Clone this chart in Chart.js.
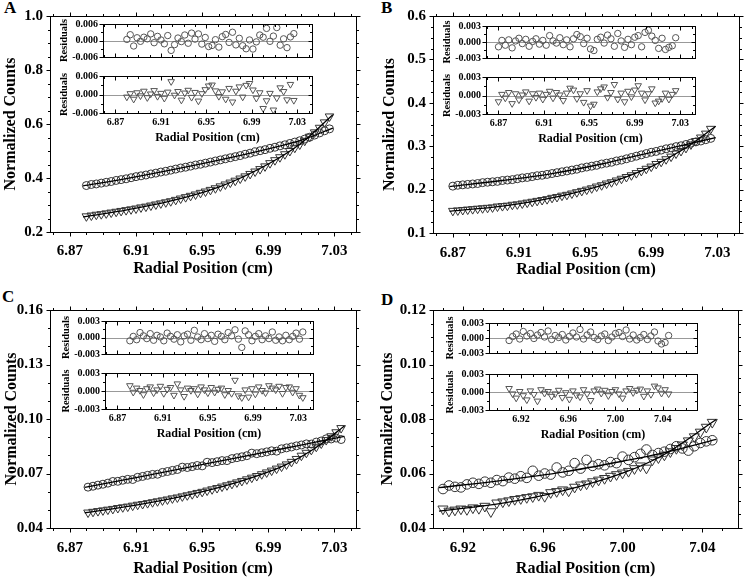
<!DOCTYPE html>
<html>
<head>
<meta charset="utf-8">
<script src="https://cdn.jsdelivr.net/npm/chart.js@4.4.0/dist/chart.umd.min.js"></script>
<style>
  html, body { margin: 0; background: #fff; }
  #fig { position: relative; width: 745px; height: 580px; overflow: hidden; }
  #fig canvas { position: absolute; }
  .lab { position: absolute; font: bold 17px 'Liberation Serif', serif; line-height: 1; }
</style>
</head>
<body>
<div id="fig">
  <div class="lab" style="left:4px;top:-1px">A</div>
  <div class="lab" style="left:381px;top:-1px">B</div>
  <div class="lab" style="left:2px;top:288px">C</div>
  <div class="lab" style="left:381px;top:291px">D</div>
</div>
<script>
// ---- tick labels ----
const xTicksABC = ['6.87', '6.91', '6.95', '6.99', '7.03'];
const xTicksD = ['6.92', '6.96', '7.00', '7.04'];
const yTicksA = ['0.2', '0.4', '0.6', '0.8', '1.0'];
const yTicksB = ['0.1', '0.2', '0.3', '0.4', '0.5', '0.6'];
const yTicksC = ['0.04', '0.07', '0.10', '0.13', '0.16'];
const yTicksD = ['0.04', '0.06', '0.08', '0.10', '0.12'];
const resTicksA = ['-0.006', '0.000', '0.006'];
const resTicksBCD = ['-0.003', '0.000', '0.003'];

// ---- panel A ----
const xA = [6.880,6.883,6.886,6.889,6.892,6.895,6.898,6.901,6.904,6.907,6.910,6.913,6.916,6.919,6.922,6.925,6.928,6.931,6.934,6.937,
  6.940,6.943,6.946,6.949,6.952,6.955,6.958,6.961,6.964,6.967,6.970,6.973,6.976,6.979,6.982,6.985,6.988,6.991,6.994,6.997,
  7.000,7.003,7.006,7.009,7.012,7.015,7.018,7.021,7.024,7.027];
const circA = [0.372,0.376,0.378,0.381,0.384,0.387,0.391,0.394,0.397,0.401,0.405,0.408,0.411,0.415,0.418,0.422,0.425,0.429,0.433,0.437,
  0.440,0.444,0.448,0.451,0.455,0.459,0.463,0.467,0.471,0.475,0.479,0.483,0.488,0.492,0.497,0.501,0.505,0.510,0.514,0.519,
  0.523,0.528,0.533,0.538,0.544,0.551,0.559,0.567,0.575,0.582];
const triA = [0.258,0.261,0.264,0.266,0.269,0.272,0.275,0.278,0.281,0.284,0.287,0.291,0.294,0.298,0.302,0.306,0.310,0.314,0.319,0.324,
  0.329,0.334,0.339,0.345,0.350,0.356,0.362,0.369,0.376,0.383,0.390,0.398,0.406,0.415,0.424,0.433,0.443,0.455,0.466,0.477,
  0.488,0.500,0.512,0.524,0.538,0.553,0.569,0.586,0.606,0.628];
const fitXA = [6.878, 6.90, 6.93, 6.96, 6.99, 7.01, 7.029];
const fitCircA = [0.371, 0.393, 0.428, 0.466, 0.508, 0.540, 0.585];
const fitTriA = [0.256, 0.277, 0.313, 0.366, 0.452, 0.530, 0.634];
const resCircA = [0.0004,0.0021,-0.0020,0.0010,-0.0003,0.0012,0.0006,0.0024,-0.0008,0.0015,0.0002,-0.0012,0.0018,-0.0036,-0.0015,0.0009,-0.0004,0.0020,-0.0010,0.0027,
  0.0005,0.0024,-0.0013,0.0011,-0.0022,-0.0018,0.0003,-0.0024,0.0014,0.0022,-0.0007,0.0030,-0.0016,0.0008,-0.0019,-0.0030,0.0002,-0.0031,-0.0005,0.0020,
  0.0012,0.0044,-0.0003,0.0016,0.0047,-0.0017,0.0006,-0.0026,0.0013,0.0025];
const resTriA = [-0.0008,0.0003,-0.0015,0.0006,-0.0004,0.0011,-0.0010,0.0002,0.0013,-0.0006,0.0004,-0.0012,0.0008,0.0042,-0.0002,0.0010,-0.0018,0.0005,0.0014,-0.0009,
  0.0007,-0.0021,0.0003,0.0016,0.0028,0.0031,0.0012,-0.0006,0.0009,-0.0015,0.0020,-0.0024,0.0011,0.0025,-0.0008,0.0030,0.0036,0.0015,-0.0012,0.0006,
  -0.0045,-0.0020,0.0004,-0.0050,-0.0011,0.0022,0.0010,-0.0017,0.0033,-0.0019];

// ---- panel B ----
const xB = [6.870,6.873,6.876,6.879,6.882,6.885,6.888,6.891,6.894,6.897,6.900,6.903,6.906,6.909,6.912,6.915,6.918,6.921,6.924,6.927,
  6.930,6.933,6.936,6.939,6.942,6.945,6.948,6.951,6.954,6.957,6.960,6.963,6.966,6.969,6.972,6.975,6.978,6.981,6.984,6.987,
  6.990,6.993,6.996,6.999,7.002,7.005,7.008,7.011,7.014,7.017,7.020,7.023,7.026];
const circB = [0.208,0.210,0.211,0.212,0.213,0.214,0.216,0.217,0.218,0.219,0.221,0.222,0.223,0.225,0.227,0.228,0.230,0.232,0.233,0.235,
  0.237,0.239,0.241,0.243,0.245,0.247,0.250,0.252,0.254,0.256,0.259,0.261,0.263,0.266,0.268,0.271,0.274,0.277,0.280,0.283,
  0.286,0.288,0.291,0.294,0.296,0.299,0.301,0.304,0.307,0.310,0.312,0.315,0.318];
const triB = [0.151,0.152,0.153,0.154,0.155,0.156,0.157,0.158,0.159,0.161,0.162,0.163,0.165,0.166,0.168,0.170,0.172,0.174,0.176,0.178,
  0.181,0.183,0.186,0.188,0.191,0.194,0.197,0.200,0.203,0.207,0.210,0.214,0.217,0.221,0.225,0.229,0.233,0.238,0.243,0.248,
  0.253,0.259,0.264,0.270,0.276,0.283,0.289,0.296,0.304,0.312,0.320,0.329,0.340];
const fitXB = [6.868, 6.90, 6.93, 6.96, 6.99, 7.01, 7.029];
const fitCircB = [0.207, 0.221, 0.237, 0.259, 0.286, 0.303, 0.320];
const fitTriB = [0.150, 0.162, 0.181, 0.210, 0.253, 0.294, 0.346];
const resCircB = [-0.0009,0.0003,-0.0006,0.0004,-0.0011,0.0002,0.0007,-0.0003,0.0005,-0.0008,0.0001,0.0006,-0.0004,0.0003,-0.0006,0.0012,0.0002,-0.0002,0.0008,-0.0005,
  0.0004,-0.0009,0.0006,0.0014,0.0010,-0.0003,0.0007,-0.0013,-0.0016,0.0005,0.0009,-0.0002,0.0013,0.0006,-0.0008,0.0016,0.0002,-0.0010,0.0005,-0.0005,
  0.0009,0.0012,-0.0009,0.0018,0.0022,0.0011,0.0003,-0.0012,0.0007,-0.0014,-0.0010,-0.0007,0.0008];
const resTriB = [-0.0010,0.0002,-0.0004,0.0005,-0.0013,0.0003,-0.0007,0.0001,0.0006,-0.0009,0.0003,-0.0003,0.0004,-0.0006,0.0002,0.0007,-0.0004,0.0005,0.0001,-0.0008,
  0.0004,0.0012,0.0009,-0.0005,0.0003,-0.0011,0.0008,-0.0017,-0.0014,0.0006,0.0011,0.0014,-0.0003,0.0005,0.0018,-0.0006,0.0004,-0.0010,0.0007,-0.0002,
  0.0009,0.0016,0.0004,-0.0007,0.0003,0.0011,-0.0012,-0.0009,-0.0005,0.0004,-0.0006,0.0002,0.0008];

// ---- panel C ----
const xC = [6.881,6.884,6.887,6.890,6.893,6.896,6.899,6.902,6.905,6.908,6.911,6.914,6.917,6.920,6.923,6.926,6.929,6.932,6.935,6.938,
  6.941,6.944,6.947,6.950,6.953,6.956,6.959,6.962,6.965,6.968,6.971,6.974,6.977,6.980,6.983,6.986,6.989,6.992,6.995,6.998,
  7.001,7.004,7.007,7.010,7.013,7.016,7.019,7.022,7.025,7.028,7.031,7.034];
const circC = [0.0625,0.0630,0.0636,0.0641,0.0647,0.0656,0.0657,0.0663,0.0668,0.0667,0.0679,0.0684,0.0690,0.0695,0.0696,0.0706,0.0711,0.0717,0.0722,0.0735,
  0.0733,0.0738,0.0744,0.0742,0.0762,0.0760,0.0765,0.0771,0.0771,0.0782,0.0787,0.0792,0.0798,0.0812,0.0809,0.0814,0.0819,0.0825,0.0823,0.0836,
  0.0841,0.0846,0.0852,0.0857,0.0863,0.0862,0.0873,0.0879,0.0891,0.0890,0.0895,0.0887];
const triC = [0.0485,0.0489,0.0493,0.0497,0.0501,0.0505,0.0510,0.0514,0.0518,0.0523,0.0528,0.0532,0.0537,0.0542,0.0547,0.0552,0.0557,0.0563,0.0568,0.0574,
  0.0580,0.0586,0.0593,0.0599,0.0606,0.0613,0.0620,0.0628,0.0635,0.0643,0.0651,0.0659,0.0668,0.0677,0.0686,0.0696,0.0706,0.0716,0.0727,0.0738,
  0.0750,0.0764,0.0780,0.0798,0.0814,0.0830,0.0847,0.0865,0.0884,0.0905,0.0927,0.0950];
const fitXC = [6.879, 6.91, 6.94, 6.97, 7.00, 7.02, 7.036];
const fitCircC = [0.0624, 0.0677, 0.0731, 0.0785, 0.0839, 0.0875, 0.0904];
const fitTriC = [0.0484, 0.0526, 0.0578, 0.0648, 0.0746, 0.0850, 0.0962];
const resCircC = [-0.0006,0.0002,-0.0004,0.0009,0.0003,-0.0002,0.0007,-0.0005,0.0004,0.0001,-0.0006,0.0008,0.0002,-0.0003,0.0005,-0.0008,0.0003,0.0006,-0.0005,0.0013,
  0.0001,-0.0004,0.0007,-0.0002,0.0004,-0.0007,0.0006,0.0002,-0.0004,0.0009,0.0003,0.0014,-0.0003,-0.0018,0.0012,0.0005,-0.0006,0.0002,0.0007,-0.0004,
  0.0003,-0.0002,0.0010,-0.0005,0.0001,-0.0006,0.0004,-0.0004,0.0002,0.0008,-0.0003,0.0010];
const resTriC = [0.0009,-0.0002,0.0005,0.0001,-0.0006,0.0004,0.0007,-0.0003,0.0002,0.0008,-0.0004,0.0003,0.0006,-0.0007,0.0012,0.0002,-0.0009,0.0005,0.0001,0.0004,
  -0.0005,0.0007,0.0002,-0.0003,0.0006,-0.0002,0.0003,0.0005,-0.0006,0.0001,-0.0004,0.0018,-0.0008,-0.0011,0.0002,-0.0010,0.0004,-0.0005,0.0007,0.0001,
  -0.0003,0.0009,0.0005,0.0002,0.0008,-0.0004,0.0006,0.0007,-0.0002,0.0004,-0.0007,-0.0011];

// ---- panel D ----
const xD = [6.910,6.913,6.916,6.919,6.922,6.925,6.928,6.931,6.934,6.937,6.940,6.943,6.946,6.949,6.952,6.955,6.958,6.961,6.964,6.967,
  6.970,6.973,6.976,6.979,6.982,6.985,6.988,6.991,6.994,6.997,7.000,7.003,7.006,7.009,7.012,7.015,7.018,7.021,7.024,7.027,
  7.030,7.033,7.036,7.039,7.042,7.045];
const circD = [0.0543,0.0556,0.0551,0.0549,0.0560,0.0566,0.0562,0.0570,0.0566,0.0576,0.0572,0.0585,0.0581,0.0590,0.0584,0.0610,0.0592,0.0600,0.0596,0.0622,
  0.0604,0.0610,0.0638,0.0618,0.0650,0.0628,0.0634,0.0630,0.0642,0.0638,0.0662,0.0650,0.0660,0.0672,0.0688,0.0668,0.0675,0.0680,0.0690,0.0700,
  0.0692,0.0684,0.0700,0.0712,0.0718,0.0722];
const triD = [0.0470,0.0462,0.0466,0.0470,0.0468,0.0474,0.0472,0.0480,0.0460,0.0492,0.0496,0.0500,0.0505,0.0508,0.0512,0.0515,0.0520,0.0516,0.0530,0.0534,
  0.0540,0.0536,0.0550,0.0558,0.0562,0.0570,0.0576,0.0582,0.0590,0.0596,0.0602,0.0608,0.0618,0.0628,0.0620,0.0650,0.0658,0.0668,0.0680,0.0692,
  0.0705,0.0720,0.0735,0.0752,0.0770,0.0788];
const fitXD = [6.908, 6.94, 6.97, 7.00, 7.02, 7.047];
const fitCircD = [0.0548, 0.0575, 0.0605, 0.0645, 0.0675, 0.0725];
const fitTriD = [0.0462, 0.0491, 0.0536, 0.0601, 0.0666, 0.0798];
const resCircD = [-0.0005,0.0003,0.0008,-0.0002,0.0013,0.0004,0.0009,-0.0001,0.0006,0.0011,0.0002,0.0014,-0.0003,0.0005,0.0001,0.0007,-0.0004,0.0003,0.0010,0.0002,
  0.0017,-0.0002,0.0006,0.0012,0.0001,-0.0003,0.0004,0.0008,-0.0005,0.0002,0.0009,0.0011,0.0003,0.0016,-0.0002,0.0006,-0.0004,0.0001,0.0007,-0.0003,
  0.0004,0.0012,-0.0006,-0.0012,-0.0009,0.0005];
const resTriD = [0.0006,-0.0003,-0.0010,0.0001,-0.0006,-0.0013,0.0002,-0.0004,-0.0015,0.0004,-0.0002,0.0001,-0.0007,-0.0003,0.0003,-0.0009,-0.0001,-0.0012,0.0002,-0.0005,
  -0.0008,0.0004,-0.0003,-0.0014,0.0002,0.0005,-0.0002,0.0003,-0.0006,0.0001,0.0004,-0.0003,-0.0010,0.0002,0.0006,-0.0001,0.0003,0.0005,-0.0007,0.0002,
  -0.0004,0.0010,0.0007,-0.0002,0.0004,-0.0003];

const SERIF = "'Liberation Serif', 'Times New Roman', serif";
const fig = document.getElementById('fig');

// frame box + inner/outer tick marks on all four sides, placed with the chart's own scales
const frameTicks = {
  id: 'frameTicks',
  beforeDatasetsDraw(chart, args, o) {
    if (!o.zero) return;
    const {ctx, chartArea: a} = chart;
    const zy = Math.round(chart.scales.y.getPixelForValue(0)) + 0.5;
    ctx.save();
    ctx.strokeStyle = '#999'; ctx.lineWidth = 1;
    ctx.beginPath(); ctx.moveTo(a.left, zy); ctx.lineTo(a.right, zy); ctx.stroke();
    ctx.restore();
  },
  afterDraw(chart, args, o) {
    const {ctx, chartArea: a} = chart;
    const x = chart.scales.x, y = chart.scales.y;
    const L = Math.round(a.left) + 0.5, R = Math.round(a.right) + 0.5;
    const T = Math.round(a.top) + 0.5, B = Math.round(a.bottom) + 0.5;
    const len = t => (t.label !== '' ? o.major : o.minor);
    ctx.save();
    ctx.strokeStyle = '#000'; ctx.lineWidth = 1;
    ctx.strokeRect(L, T, R - L, B - T);
    ctx.beginPath();
    x.ticks.forEach(t => {
      const p = Math.round(x.getPixelForValue(t.value)) + 0.5, d = len(t);
      ctx.moveTo(p, B); ctx.lineTo(p, B + (o.outB ? d : -d));
      ctx.moveTo(p, T); ctx.lineTo(p, T + (o.outT ? -d : d));
    });
    y.ticks.forEach(t => {
      const p = Math.round(y.getPixelForValue(t.value)) + 0.5, d = len(t);
      ctx.moveTo(L, p); ctx.lineTo(L + (o.outL ? -d : d), p);
      ctx.moveTo(R, p); ctx.lineTo(R + (o.outR ? d : -d), p);
    });
    ctx.stroke();
    ctx.restore();
  }
};

function axis(pos, range, step, labels, o) {
  return {
    type: 'linear', position: pos, min: range[0], max: range[1],
    grid: { display: false, drawTicks: false, tickLength: 0 },
    border: { display: false },
    ticks: {
      display: o.show, stepSize: step, autoSkip: false, includeBounds: false, maxRotation: 0,
      padding: o.pad, color: '#000', font: { family: SERIF, weight: 'bold', size: o.fs },
      callback: v => { const s = labels.find(t => Math.abs(Number(t) - v) < step / 10); return s === undefined ? '' : s; }
    },
    title: o.title
      ? { display: true, text: o.title, color: '#000', font: { family: SERIF, weight: 'bold', size: o.tfs }, padding: o.tpad }
      : { display: false },
    afterFit: s => { if (pos === 'left') s.width = o.size; else s.height = o.size; }
  };
}

const pts = (xs, ys) => xs.map((x, i) => ({ x, y: ys[i] }));
const markers = (xs, ys, style, r, color) => ({
  data: pts(xs, ys), showLine: false, pointStyle: style, rotation: style === 'triangle' ? 180 : 0,
  pointRadius: r, borderColor: color, borderWidth: 1, backgroundColor: 'rgba(0,0,0,0)'
});
const fit = (xs, ys) => ({
  data: pts(xs, ys), showLine: true, pointRadius: 0, borderColor: '#000', borderWidth: 1.3,
  cubicInterpolationMode: 'monotone', fill: false
});

function makeChart(box, datasets, scales, frame) {
  const cv = document.createElement('canvas');
  cv.width = box.w; cv.height = box.h;
  Object.assign(cv.style, { left: box.l + 'px', top: box.t + 'px', width: box.w + 'px', height: box.h + 'px' });
  fig.appendChild(cv);
  return new Chart(cv, {
    type: 'scatter',
    data: { datasets },
    options: {
      responsive: false, animation: false, devicePixelRatio: 1,
      layout: { padding: box.pad },
      plugins: { legend: { display: false }, tooltip: { enabled: false }, frameTicks: frame },
      scales
    },
    plugins: [frameTicks]
  });
}

const panels = [
  { x: xA, circ: circA, tri: triA, fx: fitXA, fc: fitCircA, ft: fitTriA, rc: resCircA, rt: resTriA,
    xr: [6.858, 7.043], xt: xTicksABC, yr: [0.2, 1.0], ys: 0.05, yt: yTicksA, rr: 0.006, rs: 0.003, rtk: resTicksA,
    ixr: [6.859, 7.043], r: 4,
    box: { l: 0, t: 0, w: 370, h: 290, pad: { top: 15, right: 14, bottom: 0, left: 0 } }, yw: 50, xh: 58, ytp: 1, xlp: 10, xtp: 12,
    ins: { l: 103, r: 312, t1: 19, b1: 62, t2: 71, b2: 113 } },
  { x: xB, circ: circB, tri: triB, fx: fitXB, fc: fitCircB, ft: fitTriB, rc: resCircB, rt: resTriB,
    xr: [6.858, 7.043], xt: xTicksABC, yr: [0.1, 0.6], ys: 0.025, yt: yTicksB, rr: 0.003, rs: 0.0015, rtk: resTicksBCD,
    ixr: [6.859, 7.043], r: 4,
    box: { l: 380, t: 0, w: 365, h: 290, pad: { top: 15, right: 6, bottom: 0, left: 0 } }, yw: 53, xh: 57, ytp: 0, xlp: 11, xtp: 11,
    ins: { l: 486, r: 695, t1: 21, b1: 63, t2: 72, b2: 114 } },
  { x: xC, circ: circC, tri: triC, fx: fitXC, fc: fitCircC, ft: fitTriC, rc: resCircC, rt: resTriC,
    xr: [6.858, 7.043], xt: xTicksABC, yr: [0.04, 0.16], ys: 0.01, yt: yTicksC, rr: 0.003, rs: 0.0015, rtk: resTicksBCD,
    ixr: [6.859, 7.043], r: 4,
    box: { l: 0, t: 290, w: 370, h: 290, pad: { top: 20, right: 14, bottom: 0, left: 0 } }, yw: 50, xh: 52, ytp: 2, xlp: 11, xtp: 2,
    ins: { l: 105, r: 313, t1: 316, b1: 359, t2: 368, b2: 409 } },
  { x: xD, circ: circD, tri: triD, fx: fitXD, fc: fitCircD, ft: fitTriD, rc: resCircD, rt: resTriD,
    xr: [6.905, 7.058], xt: xTicksD, yr: [0.04, 0.12], ys: 0.005, yt: yTicksD, rr: 0.003, rs: 0.0015, rtk: resTicksBCD,
    ixr: [6.893, 7.069], r: 4.8,
    box: { l: 378, t: 290, w: 367, h: 290, pad: { top: 20, right: 6, bottom: 0, left: 0 } }, yw: 55, xh: 52, ytp: 0, xlp: 11, xtp: 2,
    ins: { l: 489, r: 697, t1: 318, b1: 358, t2: 369, b2: 410 } }
];

function mainChart(p) {
  const ds = [fit(p.fx, p.fc), fit(p.fx, p.ft),
    markers(p.x, p.circ, 'circle', p.r, '#333'), markers(p.x, p.tri, 'triangle', p.r + 1, '#333')];
  const scales = {
    x: axis('bottom', p.xr, 0.01, p.xt, { show: true, fs: 15, pad: p.xlp, size: p.xh, title: 'Radial Position (cm)', tfs: 16, tpad: { top: 0, bottom: p.xtp } }),
    y: axis('left', p.yr, p.ys, p.yt, { show: true, fs: 15, pad: 7, size: p.yw, title: 'Normalized Counts', tfs: 16, tpad: { top: p.ytp, bottom: 0 } })
  };
  makeChart(p.box, ds, scales, { major: 4, minor: 2.5, outL: true, outR: true, outT: true, outB: true });
}

function insetChart(p, which) {
  const I = p.ins, top = which === 1 ? I.t1 : I.t2, bot = which === 1 ? I.b1 : I.b2;
  const showX = which === 2;
  const box = { l: I.l - 50, t: top - 6, w: I.r - I.l + 56, h: bot - top + (showX ? 38 : 12),
    pad: { top: 6, right: 6, bottom: showX ? 0 : 6, left: 0 } };
  const ds = [which === 1 ? markers(p.x, p.rc, 'circle', 3.2, '#555') : markers(p.x, p.rt, 'triangle', 3.8, '#555')];
  const scales = {
    x: axis('bottom', p.ixr, 0.01, p.xt, { show: showX, fs: 10, pad: 3, size: showX ? 32 : 0,
      title: showX ? 'Radial Position (cm)' : null, tfs: 12, tpad: { top: 0, bottom: 0 } }),
    y: axis('left', [-p.rr, p.rr], p.rs, p.rtk, { show: true, fs: 10, pad: 5, size: 50,
      title: 'Residuals', tfs: 10.5, tpad: { top: 4.7, bottom: 0 } })
  };
  makeChart(box, ds, scales, { major: 4, minor: 2.5, outL: true, outR: false, outT: false, outB: false, zero: true });
}

panels.forEach(p => { mainChart(p); insetChart(p, 1); insetChart(p, 2); });
</script>
</body>
</html>
